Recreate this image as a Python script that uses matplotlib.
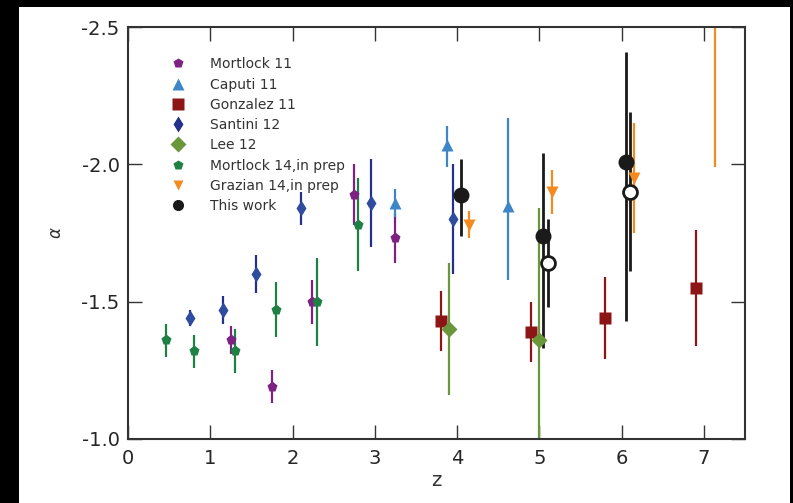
import numpy as np
import matplotlib.pyplot as plt
from matplotlib.lines import Line2D
from matplotlib.patches import Rectangle

# Faint-end slope measurements alpha vs redshift z
mortlock11_z = [1.25, 1.75, 2.24, 2.75, 3.24]
mortlock11_a = [-1.36, -1.19, -1.50, -1.89, -1.73]
mortlock11_e = [0.05, 0.06, 0.08, 0.11, 0.09]

caputi11_z = [3.24, 3.88, 4.62]
caputi11_a = [-1.86, -2.07, -1.85]
caputi11_lo = [0.05, 0.07, 0.32]
caputi11_hi = [0.05, 0.08, 0.27]

gonzalez11_z = [3.8, 4.9, 5.8, 6.9]
gonzalez11_a = [-1.43, -1.39, -1.44, -1.55]
gonzalez11_e = [0.11, 0.11, 0.15, 0.21]

santini12_z = [0.75, 1.15, 1.55, 2.1, 2.95, 3.95]
santini12_a = [-1.44, -1.47, -1.60, -1.84, -1.86, -1.80]
santini12_e = [0.03, 0.05, 0.07, 0.06, 0.16, 0.20]

lee12_z = [3.9, 5.0]
lee12_a = [-1.40, -1.36]
lee12_e = [0.24, 0.48]

mortlock14_z = [0.46, 0.8, 1.3, 1.8, 2.3, 2.8]
mortlock14_a = [-1.36, -1.32, -1.32, -1.47, -1.50, -1.78]
mortlock14_e = [0.06, 0.06, 0.08, 0.10, 0.16, 0.17]

grazian14_z = [4.15, 5.15, 6.15, 7.14]
grazian14_a = [-1.78, -1.90, -1.95, -2.65]
grazian14_e = [0.05, 0.08, 0.20, 0.66]

this_work_z = [4.05, 5.05, 6.05]
this_work_a = [-1.89, -1.74, -2.01]
this_work_lo = [0.13, 0.30, 0.40]
this_work_hi = [0.15, 0.41, 0.58]

# second set of our points (open circles)
this_work2_z = [5.1, 6.1]
this_work2_a = [-1.64, -1.90]
this_work2_e = [0.16, 0.29]

c_mort11 = '#7d2182'
c_caputi = '#3f86c8'
c_gonz = '#8c1515'
c_sant = '#25308a'
c_lee = '#6a973a'
c_mort14 = '#1e8042'
c_graz = '#f58a1f'
c_this = '#1a1a1a'

fig = plt.figure(figsize=(7.93, 5.03), dpi=100)
fig.patch.set_facecolor('black')
fig.add_artist(Rectangle((19 / 793, 0), 771 / 793, 496 / 503,
                         transform=fig.transFigure, facecolor='white',
                         edgecolor='none', zorder=-1))
ax = fig.add_axes([128 / 793, 1 - 439 / 503, 617 / 793, 412 / 503])

kw = dict(capsize=0, linestyle='none', elinewidth=1.6)

ax.errorbar(mortlock11_z, mortlock11_a, yerr=mortlock11_e, fmt='p', color=c_mort11,
            ms=8, mec='none', **kw)
ax.errorbar(caputi11_z, caputi11_a, yerr=[caputi11_lo, caputi11_hi], fmt='^', color=c_caputi,
            ms=8, mec='none', **kw)
ax.errorbar(gonzalez11_z, gonzalez11_a, yerr=gonzalez11_e, fmt='s', color=c_gonz,
            ms=8, mec='none', **kw)
ax.errorbar(santini12_z, santini12_a, yerr=santini12_e, fmt='d', color=c_sant,
            mfc='#2f4c9e', ms=8, mec='none', **kw)
ax.errorbar(lee12_z, lee12_a, yerr=lee12_e, fmt='D', color=c_lee,
            ms=8, mec='none', **kw)
ax.errorbar(mortlock14_z, mortlock14_a, yerr=mortlock14_e, fmt='p', color=c_mort14,
            ms=8, mec='none', **kw)
ax.errorbar(grazian14_z, grazian14_a, yerr=grazian14_e, fmt='v', color=c_graz,
            ms=8, mec='none', **kw)
ax.errorbar(this_work_z, this_work_a, yerr=[this_work_lo, this_work_hi], fmt='o',
            color=c_this, ms=11.5, mec='none', capsize=0, linestyle='none', elinewidth=2)
ax.errorbar(this_work2_z, this_work2_a, yerr=this_work2_e, fmt='o', color=c_this,
            mfc='white', mec=c_this, mew=2, ms=10, capsize=0, linestyle='none',
            elinewidth=2)

ax.set_xlim(0, 7.5)
ax.set_ylim(-1.0, -2.5)
ax.set_xticks(np.arange(0, 8, 1))
ax.set_yticks([-2.5, -2.0, -1.5, -1.0])
ax.set_yticklabels(['-2.5', '-2.0', '-1.5', '-1.0'])
ax.tick_params(direction='in', length=10, width=1, top=True, right=True,
               labelsize=14, labelcolor='#262626', color='#333333')
ax.tick_params(axis='x', pad=7)
ax.tick_params(axis='y', pad=6)
for s in ax.spines.values():
    s.set_color('#333333')
    s.set_linewidth(1.5)

ax.set_xlabel('z', fontsize=14, color='#333333', labelpad=2)
ax.set_ylabel(r'$\alpha$', fontsize=12, color='#333333', labelpad=12)

labels = ['Mortlock 11', 'Caputi 11', 'Gonzalez 11', 'Santini 12', 'Lee 12',
          'Mortlock 14,in prep', 'Grazian 14,in prep', 'This work']
markers = ['p', '^', 's', 'd', 'D', 'p', 'v', 'o']
colors = [c_mort11, c_caputi, c_gonz, c_sant, c_lee, c_mort14, c_graz, c_this]
sizes = [7, 8, 8, 8, 8, 7, 7, 8]
handles = [Line2D([], [], linestyle='none', marker=m, color=c, ms=s, mec='none')
           for m, c, s in zip(markers, colors, sizes)]
ax.legend(handles, labels, loc='upper left', bbox_to_anchor=(0.05, 0.94),
          borderaxespad=0, frameon=False, fontsize=10, numpoints=1,
          handletextpad=1.3, labelspacing=0.45, labelcolor='#333333')

fig.savefig('out.png', dpi=100)
